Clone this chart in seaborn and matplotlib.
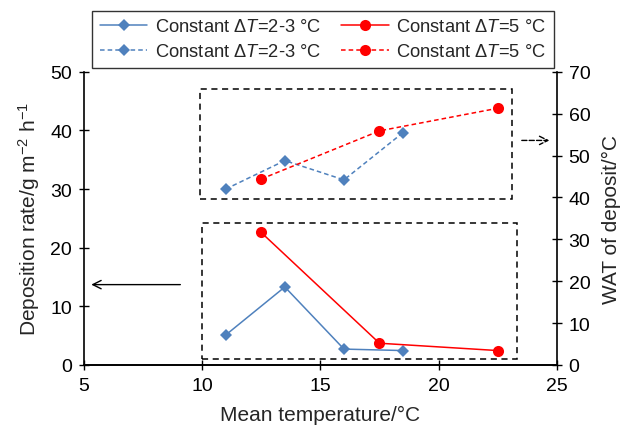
import matplotlib
matplotlib.use("Agg")
import matplotlib.pyplot as plt
import seaborn as sns
import pandas as pd
from matplotlib.patches import Rectangle

# Data
temp_dt23 = [11.0, 13.5, 16.0, 18.5]
rate_dt23 = [5.1, 13.3, 2.7, 2.45]
wat_dt23 = [42.0, 48.8, 44.2, 55.5]

temp_dt5 = [12.5, 17.5, 22.5]
rate_dt5 = [22.6, 3.7, 2.45]
wat_dt5 = [44.4, 55.9, 61.3]

label_dt23 = "Constant Δ$\\mathit{T}$=2-3 °C"
label_dt5 = "Constant Δ$\\mathit{T}$=5 °C"

sns.set_theme(style="ticks")
plt.rcParams['font.family'] = ['Liberation Sans', 'DejaVu Sans']
plt.rcParams['mathtext.fontset'] = 'custom'
plt.rcParams['mathtext.rm'] = 'Liberation Sans'
plt.rcParams['mathtext.it'] = 'Liberation Sans:italic'
plt.rcParams['mathtext.default'] = 'regular'

BLUE = '#4F81BD'
RED = '#FF0000'

fig = plt.figure(figsize=(6.25, 4.31), dpi=100)
ax = fig.add_axes([0.134, 0.151, 0.757, 0.680])
ax2 = ax.twinx()

df23 = pd.DataFrame({'t': temp_dt23, 'rate': rate_dt23, 'wat': wat_dt23})
df5 = pd.DataFrame({'t': temp_dt5, 'rate': rate_dt5, 'wat': wat_dt5})

sns.lineplot(data=df23, x='t', y='rate', ax=ax, sort=False, color=BLUE, marker='D',
             markersize=6.5, markeredgewidth=0, linewidth=1.1, label=label_dt23, legend=False)
sns.lineplot(data=df5, x='t', y='rate', ax=ax, sort=False, color=RED, marker='o',
             markersize=8, markeredgewidth=0, linewidth=1.1, label=label_dt5, legend=False)
sns.lineplot(data=df23, x='t', y='wat', ax=ax2, sort=False, color=BLUE, marker='D',
             markersize=6.5, markeredgewidth=0, linewidth=1.1, linestyle='--', label=label_dt23, legend=False)
sns.lineplot(data=df5, x='t', y='wat', ax=ax2, sort=False, color=RED, marker='o',
             markersize=8, markeredgewidth=0, linewidth=1.1, linestyle='--', label=label_dt5, legend=False)
for l in ax2.lines:
    l.set_dashes([3, 2])

ax.set_xlim(5, 25)
ax.set_ylim(0, 50)
ax2.set_ylim(0, 70)
ax.set_xticks([5, 10, 15, 20, 25])
ax.set_yticks(range(0, 51, 10))
ax2.set_yticks(range(0, 71, 10))

for a in (ax, ax2):
    a.spines['top'].set_visible(False)
    for s in a.spines.values():
        s.set_color('black')
        s.set_linewidth(1.2)
    a.tick_params(direction='inout', length=7, width=1.0, labelsize=14, colors='black', pad=5)
ax2.spines['left'].set_visible(False)
ax.spines['right'].set_visible(False)

ax.set_xlabel('Mean temperature/°C', fontsize=15, labelpad=8)
ax.set_ylabel('Deposition rate/g m$^{−2}$ h$^{−1}$', fontsize=15, labelpad=6)
ax2.set_ylabel('WAT of deposit/°C', fontsize=15, labelpad=8)

# Dashed boxes
ax.add_patch(Rectangle((9.9, 28.3), 13.2, 18.8, fill=False, edgecolor='black',
                       linestyle=(0, (4, 3)), linewidth=1.1, zorder=1))
ax.add_patch(Rectangle((10.0, 1.0), 13.3, 23.2, fill=False, edgecolor='black',
                       linestyle=(0, (4, 3)), linewidth=1.1, zorder=1))

# Arrows
ax.annotate('', xy=(5.2, 13.7), xytext=(9.2, 13.7),
            arrowprops=dict(arrowstyle='->', color='black', lw=1.0, mutation_scale=15))
ax.annotate('', xy=(24.8, 38.3), xytext=(23.4, 38.3),
            arrowprops=dict(arrowstyle='->', color='black', lw=1.0, linestyle='--', mutation_scale=15))

h1, l1 = ax.get_legend_handles_labels()
h2, l2 = ax2.get_legend_handles_labels()
handles = [h1[0], h2[0], h1[1], h2[1]]
labels = [l1[0], l2[0], l1[1], l2[1]]
leg = fig.legend(handles, labels, ncol=2, loc='upper center',
                 bbox_to_anchor=(323/625, 1 - 11.7/431),
                 fontsize=13.2, frameon=True, fancybox=False, edgecolor='black',
                 handlelength=2.6, handletextpad=0.4, columnspacing=1.1,
                 borderpad=0.4, labelspacing=0.45, borderaxespad=0)
leg.get_frame().set_linewidth(1.0)

fig.savefig('out.png', dpi=100)
